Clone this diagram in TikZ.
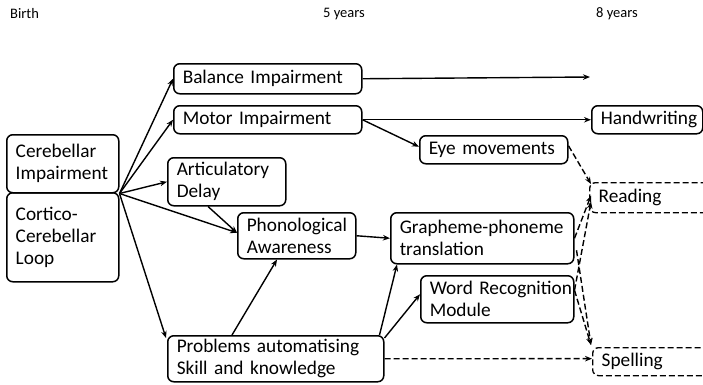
\documentclass[tikz,border=0pt]{standalone}
\usepackage{fontspec}
\setmainfont{Carlito}
\usetikzlibrary{arrows.meta,calc}
\begin{document}
\begin{tikzpicture}[x=1pt,y=-1pt,
  box/.style={draw, line width=1.5pt, rounded corners=6pt, anchor=north west, align=left, inner xsep=9pt, inner ysep=0pt, font=\fontsize{19.3}{22}\selectfont},
  dbox/.style={box, dash pattern=on 6pt off 3pt, line width=1.3pt},
  arr/.style={-{Stealth[length=7pt,width=5.5pt]}, line width=1.4pt},
  darr/.style={arr, dash pattern=on 6pt off 3pt},
  hdr/.style={font=\fontsize{14.5}{17}\selectfont, anchor=west, inner sep=0pt}]
\useasboundingbox (0,0) rectangle (703,384);
\clip (0,0) rectangle (703,384);

\node[hdr] (birth) at (10,14) {Birth};
\node[hdr] (five) at (323,14) {5 years};
\node[hdr] (eight) at (596,14) {8 years};

\node[box, text width=94pt, minimum height=58pt] (cer) at (6,134) {Cerebellar\\Impairment};
\node[box, text width=94pt, minimum height=89pt] (loop) at (6,192) {Cortico-\\Cerebellar\\Loop};
\node[box, text width=170pt, minimum height=30pt] (bal) at (173,63) {Balance Impairment};
\node[box, text width=170pt, minimum height=28pt] (mot) at (173,105) {Motor Impairment};
\node[box, text width=100pt, minimum height=48pt] (art) at (167,157) {Articulatory\\Delay};
\node[box, text width=100pt, minimum height=46pt] (phon) at (237,212) {Phonological\\Awareness};
\node[box, text width=198pt, minimum height=46pt] (prob) at (167,335) {\mbox{Problems automatising}\\\mbox{Skill and knowledge}};
\node[box, text width=165pt, minimum height=51pt] (gp) at (390,212) {\mbox{Grapheme-phoneme}\\translation};
\node[box, text width=130pt, minimum height=28pt] (eye) at (419,135) {Eye movements};
\node[box, text width=135pt, minimum height=47pt] (wr) at (420,275) {\mbox{Word Recognition}\\Module};
\node[box, text width=93pt, minimum height=28pt] (hw) at (591,105) {Handwriting};
\node[dbox, text width=132pt, minimum height=30pt] (read) at (589,182) {Reading};
\node[dbox, text width=132pt, minimum height=28pt] (spell) at (592,347) {Spelling};

\coordinate (balend) at (590,77);

\draw[arr] (cer.south east) -- (bal.west);
\draw[arr] (cer.south east) -- (mot.west);
\draw[arr] (cer.south east) -- (art.west);
\draw[arr] (cer.south east) -- ($(phon.west)+(0,-3)$);
\draw[arr] (cer.south east) -- ($(prob.north west)+(-1,3)$);
\draw[arr] ($(art.south west)+(41,0)$) -- ($(phon.west)+(0,-3)$);
\draw[arr] ($(prob.north west)+(65,0)$) -- ($(phon.south west)+(40,0)$);
\draw[arr] (phon.east) -- (gp.west);
\draw[arr] (bal.east) -- (balend);
\draw[arr] (mot.east) -- (hw.west);
\draw[arr] (mot.east) -- ($(eye.west)+(0,-3)$);
\draw[arr] ($(prob.north east)+(-5,0)$) -- ($(gp.south west)+(7,0)$);
\draw[arr] ($(prob.north east)+(0,3)$) -- ($(wr.west)+(0,-5)$);
\draw[darr] (prob.east) -- ($(spell.west)+(0,-3)$);
\draw[darr] ($(eye.east)+(0,-4)$) -- ($(read.north west)+(2,2)$);
\draw[darr] (gp.east) -- ($(read.west)+(2,-2)$);
\draw[darr] ($(gp.east)+(2,12)$) -- ($(spell.north west)+(-1,-2)$);
\draw[darr] ($(wr.east)+(0,-9)$) -- ($(read.west)+(2,4)$);
\draw[darr] ($(wr.east)+(0,-9)$) -- ($(spell.north west)+(-1,-2)$);
\end{tikzpicture}
\end{document}
